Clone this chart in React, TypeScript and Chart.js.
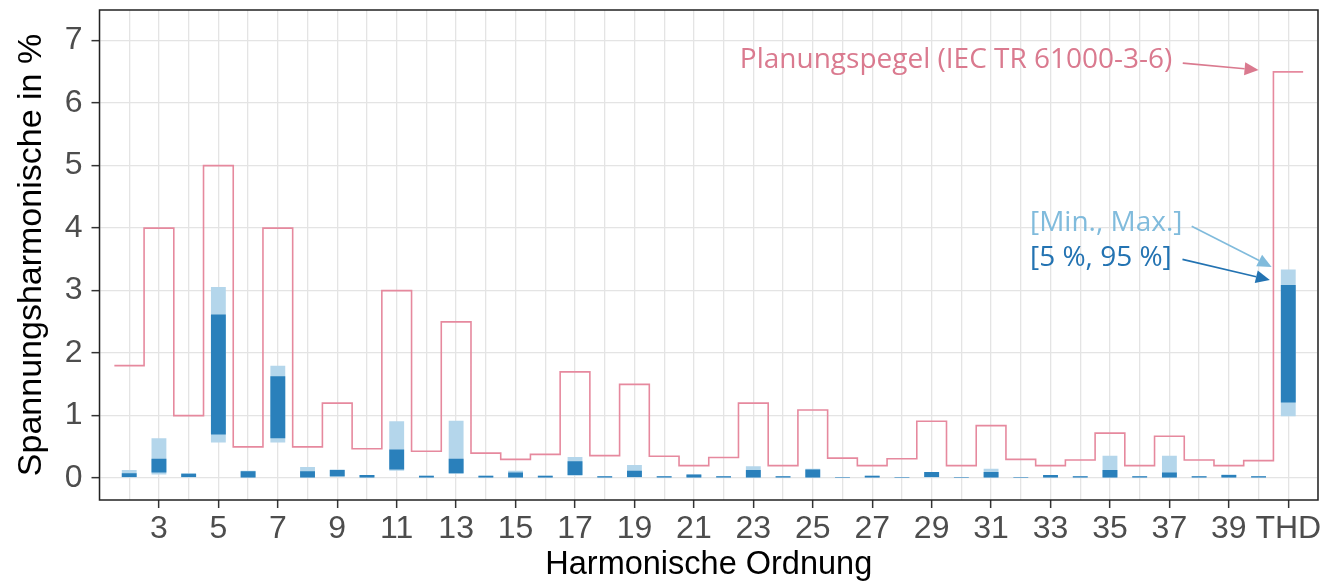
import { useEffect, useRef } from 'react';
import { Chart, registerables } from 'chart.js';

Chart.register(...registerables);

// Harmonic orders 2..40; the THD column sits at position 41 on the x axis.
const orders = [2, 3, 4, 5, 6, 7, 8, 9, 10, 11, 12, 13, 14, 15, 16, 17, 18, 19, 20, 21, 22, 23, 24, 25, 26, 27, 28, 29, 30, 31, 32, 33, 34, 35, 36, 37, 38, 39, 40, 41];
const THD_POS = 41;
const tickLabels: Record<number, string> = {
  3: '3', 5: '5', 7: '7', 9: '9', 11: '11', 13: '13', 15: '15', 17: '17', 19: '19', 21: '21',
  23: '23', 25: '25', 27: '27', 29: '29', 31: '31', 33: '33', 35: '35', 37: '37', 39: '39', 41: 'THD',
};

// Planning levels (IEC TR 61000-3-6) in %, per order, last entry = THD
const planningLevel = [1.8, 4, 1, 5, 0.5, 4, 0.5, 1.2, 0.47, 3, 0.43, 2.5, 0.4, 0.3, 0.38, 1.7, 0.36, 1.5, 0.35, 0.2, 0.33, 1.2, 0.2, 1.09, 0.32, 0.2, 0.31, 0.91, 0.2, 0.84, 0.3, 0.2, 0.29, 0.72, 0.2, 0.67, 0.29, 0.2, 0.28, 6.5];

// Measured voltage harmonics in %: minimum / maximum and 5 % / 95 % quantiles
const minVals = [0.0, 0.06, 0.01, 0.57, 0.0, 0.57, 0.0, 0.02, 0.0, 0.12, 0.0, 0.07, 0.0, 0.0, 0.0, 0.04, 0.0, 0.01, 0.0, 0.0, 0.0, 0.0, 0.0, 0.0, 0.0, 0.0, 0.0, 0.01, 0.0, 0.0, 0.0, 0.01, 0.0, 0.0, 0.0, 0.0, 0.0, 0.0, 0.0, 0.99];
const maxVals = [0.13, 0.64, 0.08, 3.06, 0.12, 1.8, 0.18, 0.14, 0.05, 0.91, 0.04, 0.92, 0.04, 0.12, 0.04, 0.34, 0.03, 0.21, 0.03, 0.06, 0.03, 0.19, 0.03, 0.15, 0.02, 0.04, 0.02, 0.1, 0.02, 0.15, 0.02, 0.05, 0.03, 0.36, 0.03, 0.36, 0.03, 0.06, 0.03, 3.34];
const p5Vals = [0.02, 0.09, 0.02, 0.7, 0.01, 0.64, 0.01, 0.03, 0.01, 0.14, 0.01, 0.08, 0.01, 0.01, 0.01, 0.05, 0.01, 0.02, 0.01, 0.01, 0.01, 0.01, 0.01, 0.01, 0.0, 0.01, 0.0, 0.02, 0.0, 0.01, 0.0, 0.01, 0.01, 0.01, 0.01, 0.01, 0.01, 0.01, 0.01, 1.21];
const p95Vals = [0.08, 0.31, 0.07, 2.62, 0.11, 1.63, 0.11, 0.13, 0.05, 0.46, 0.04, 0.31, 0.04, 0.09, 0.04, 0.27, 0.03, 0.12, 0.03, 0.06, 0.03, 0.13, 0.03, 0.14, 0.02, 0.04, 0.02, 0.1, 0.02, 0.1, 0.02, 0.05, 0.03, 0.13, 0.03, 0.09, 0.03, 0.05, 0.03, 3.09];

const Y_MIN = -0.35;
const Y_MAX = 7.49;
const X_MIN = 1;
const X_MAX = 42;

const AXIS_FONT = "'Liberation Sans', Arial, Helvetica, sans-serif";
const NOTE_FONT = "'Open Sans', 'Noto Sans', sans-serif";

const COLOR_LEVEL = '#e6899e';
const COLOR_LEVEL_TEXT = '#da7a8f';
const COLOR_RANGE = '#b4d6eb';
const COLOR_RANGE_TEXT = '#80bbdc';
const COLOR_QUANT = '#2a80bb';
const COLOR_QUANT_TEXT = '#2373b2';
const COLOR_GRID = '#e4e4e4';

// Annotation anchors in data units (x = harmonic position, y = %)
const levelNote = { text: 'Planungspegel (IEC TR 61000-3-6)', x: 37.1, y: 6.57, from: [37.45, 6.64], to: [40.0, 6.53] };
const rangeNote = { text: '[Min., Max.]', x: 32.31, y: 3.95, from: [37.75, 4.03], to: [40.44, 3.38] };
const quantNote = { text: '[5 %, 95 %]', x: 32.31, y: 3.4, from: [37.44, 3.5], to: [40.38, 3.17] };

function drawArrow(ctx: CanvasRenderingContext2D, x1: number, y1: number, x2: number, y2: number, color: string) {
  const ang = Math.atan2(y2 - y1, x2 - x1);
  const headLen = 14;
  const headHalf = 6.5;
  const bx = x2 - headLen * Math.cos(ang);
  const by = y2 - headLen * Math.sin(ang);
  ctx.save();
  ctx.strokeStyle = color;
  ctx.fillStyle = color;
  ctx.lineWidth = 1.6;
  ctx.beginPath();
  ctx.moveTo(x1, y1);
  ctx.lineTo(bx, by);
  ctx.stroke();
  ctx.beginPath();
  ctx.moveTo(x2, y2);
  ctx.lineTo(bx + headHalf * Math.sin(ang), by - headHalf * Math.cos(ang));
  ctx.lineTo(bx - headHalf * Math.sin(ang), by + headHalf * Math.cos(ang));
  ctx.closePath();
  ctx.fill();
  ctx.restore();
}

const framePlugin = {
  id: 'frameAndNotes',
  afterDraw(chart: any) {
    const { ctx, chartArea } = chart;
    const xs = chart.scales.x;
    const ys = chart.scales.y;
    ctx.save();
    ctx.strokeStyle = '#222222';
    ctx.lineWidth = 1.5;
    ctx.strokeRect(chartArea.left, chartArea.top, chartArea.right - chartArea.left, chartArea.bottom - chartArea.top);

    ctx.font = `28px ${NOTE_FONT}`;
    ctx.textBaseline = 'alphabetic';

    ctx.fillStyle = COLOR_LEVEL_TEXT;
    ctx.textAlign = 'right';
    ctx.fillText(levelNote.text, xs.getPixelForValue(levelNote.x), ys.getPixelForValue(levelNote.y));

    ctx.textAlign = 'left';
    ctx.fillStyle = COLOR_RANGE_TEXT;
    ctx.fillText(rangeNote.text, xs.getPixelForValue(rangeNote.x), ys.getPixelForValue(rangeNote.y));
    ctx.fillStyle = COLOR_QUANT_TEXT;
    ctx.fillText(quantNote.text, xs.getPixelForValue(quantNote.x), ys.getPixelForValue(quantNote.y));
    ctx.restore();

    const arrows: [typeof levelNote, string][] = [
      [levelNote, COLOR_LEVEL_TEXT],
      [rangeNote, COLOR_RANGE_TEXT],
      [quantNote, COLOR_QUANT_TEXT],
    ];
    for (const [n, c] of arrows) {
      drawArrow(
        ctx,
        xs.getPixelForValue(n.from[0]), ys.getPixelForValue(n.from[1]),
        xs.getPixelForValue(n.to[0]), ys.getPixelForValue(n.to[1]),
        c,
      );
    }
  },
};

export default function App() {
  const canvasRef = useRef<HTMLCanvasElement | null>(null);

  useEffect(() => {
    if (!canvasRef.current) return;

    // Step outline: each level spans [order - 0.5, order + 0.5]
    const levelPoints = orders.map((o, i) => ({ x: o - 0.5, y: planningLevel[i] }));
    levelPoints.push({ x: THD_POS + 0.5, y: planningLevel[planningLevel.length - 1] });

    const rangeBars = orders.map((o, i) => ({ x: o, y: [minVals[i], maxVals[i]] }));
    const quantBars = orders.map((o, i) => ({ x: o, y: [p5Vals[i], p95Vals[i]] }));

    const xTickValues: number[] = [];
    for (let v = X_MIN; v <= X_MAX; v++) xTickValues.push(v);
    const yTickValues: number[] = [];
    for (let v = 0; v <= 7; v += 0.5) yTickValues.push(v);

    const chart = new Chart(canvasRef.current, {
      type: 'bar',
      data: {
        datasets: [
          {
            type: 'bar',
            label: '[5 %, 95 %]',
            data: quantBars as any,
            backgroundColor: COLOR_QUANT,
            borderWidth: 0,
            grouped: false,
            categoryPercentage: 1,
            barPercentage: 0.5,
            order: 0,
          } as any,
          {
            type: 'bar',
            label: '[Min., Max.]',
            data: rangeBars as any,
            backgroundColor: COLOR_RANGE,
            borderWidth: 0,
            grouped: false,
            categoryPercentage: 1,
            barPercentage: 0.5,
            order: 1,
          } as any,
          {
            type: 'line',
            label: 'Planungspegel',
            data: levelPoints as any,
            borderColor: COLOR_LEVEL,
            borderWidth: 1.6,
            pointRadius: 0,
            stepped: true,
            fill: false,
            order: 2,
          } as any,
        ],
      },
      options: {
        animation: false,
        responsive: true,
        maintainAspectRatio: false,
        layout: { padding: { left: 0, top: 10, right: 21, bottom: 0 } },
        plugins: { legend: { display: false }, tooltip: { enabled: false } },
        scales: {
          x: {
            type: 'linear',
            min: X_MIN,
            max: X_MAX,
            offset: false,
            afterBuildTicks: (axis: any) => {
              axis.ticks = xTickValues.map((v) => ({ value: v }));
            },
            afterFit: (scale: any) => {
              scale.height = 86;
              scale.paddingLeft = 0;
              scale.paddingRight = 0;
            },
            grid: {
              offset: false,
              color: COLOR_GRID,
              lineWidth: 1.3,
              drawTicks: true,
              tickLength: 8,
              tickWidth: 1.5,
              tickColor: (ctx: any) => (tickLabels[ctx.tick?.value] ? '#333333' : 'rgba(0,0,0,0)'),
            },
            border: { display: false },
            ticks: {
              autoSkip: false,
              maxRotation: 0,
              minRotation: 0,
              padding: 2,
              color: '#4d4d4d',
              font: { family: AXIS_FONT, size: 32 },
              callback: (v: any) => tickLabels[Math.round(Number(v))] ?? '',
            },
            title: {
              display: true,
              text: 'Harmonische Ordnung',
              color: '#000000',
              font: { family: AXIS_FONT, size: 32.5 },
              padding: { top: 0, bottom: 1 },
            },
          },
          y: {
            type: 'linear',
            min: Y_MIN,
            max: Y_MAX,
            afterBuildTicks: (axis: any) => {
              axis.ticks = yTickValues.map((v) => ({ value: v }));
            },
            afterFit: (scale: any) => {
              scale.width = 99.5;
              scale.paddingTop = 0;
              scale.paddingBottom = 0;
            },
            grid: {
              color: COLOR_GRID,
              lineWidth: 1.3,
              drawTicks: true,
              tickLength: 8,
              tickWidth: 1.5,
              tickColor: (ctx: any) => (Number.isInteger(ctx.tick?.value) ? '#333333' : 'rgba(0,0,0,0)'),
            },
            border: { display: false },
            ticks: {
              padding: 9,
              color: '#4d4d4d',
              font: { family: AXIS_FONT, size: 32 },
              callback: (v: any) => (Number.isInteger(Number(v)) ? String(v) : ''),
            },
            title: {
              display: true,
              text: 'Spannungsharmonische in %',
              color: '#000000',
              font: { family: AXIS_FONT, size: 34 },
              padding: { top: 11, bottom: 0 },
            },
          },
        },
      },
      plugins: [framePlugin],
    });

    return () => chart.destroy();
  }, []);

  return (
    <div style={{ position: 'absolute', left: 0, top: 0, width: 1339, height: 586, background: '#ffffff' }}>
      <canvas ref={canvasRef} />
    </div>
  );
}
